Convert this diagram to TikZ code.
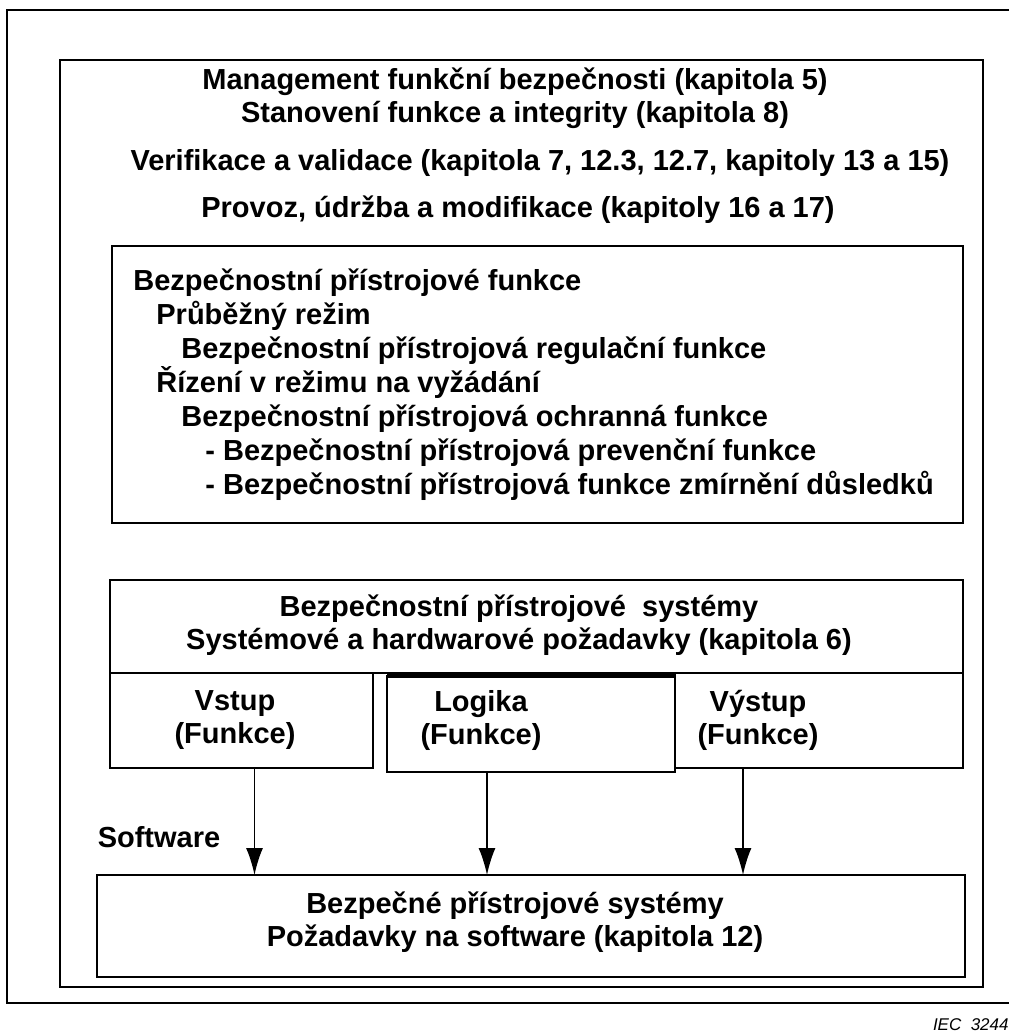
\documentclass[tikz,border=0pt]{standalone}
\usepackage{fontspec}
\setmainfont{Liberation Sans}
\usetikzlibrary{arrows.meta,positioning}

\begin{document}
\begin{tikzpicture}[x=0.5pt,y=-0.5pt,>={Latex[length=13.5pt,width=8.5pt]},
  box/.style={draw, line width=0.8pt, inner sep=0pt, outer sep=0pt},
  txt/.style={font=\bfseries\fontsize{14.5}{16.5}\selectfont, align=center, inner sep=0pt}]
\useasboundingbox (0,0) rectangle (1009,1035);

% Frames
\draw[line width=1pt] (1009,10) -- (7,10) -- (7,1003) -- (1009,1003);
\draw[line width=1pt] (60,60) rectangle (983,987);

% Headings
\node[txt] (mgmt) at (515,98) {Management funkční bezpečnosti (kapitola 5)\\Stanovení funkce a integrity (kapitola 8)};
\node[txt] (verif) at (540,163) {Verifikace a validace (kapitola 7, 12.3, 12.7, kapitoly 13 a 15)};
\node[txt] (provoz) at (518,210) {Provoz, údržba a modifikace (kapitoly 16 a 17)};

% Functions
\draw[line width=0.8pt] (112,246) rectangle (963,523);
\node[txt, align=left, anchor=west, font=\bfseries\fontsize{14.5}{17}\selectfont] (funkce) at (133,385) {Bezpečnostní přístrojové funkce\\
\hspace*{11.5pt}Průběžný režim\\
\hspace*{24pt}Bezpečnostní přístrojová regulační funkce\\
\hspace*{11.5pt}Řízení v režimu na vyžádání\\
\hspace*{24pt}Bezpečnostní přístrojová ochranná funkce\\
\hspace*{36pt}- Bezpečnostní přístrojová prevenční funkce\\
\hspace*{36pt}- Bezpečnostní přístrojová funkce zmírnění důsledků};

% Systems
\node[box, minimum width=426.5pt, minimum height=46.5pt] (sys) at (536.5,626.5) {};
\node[txt] (systxt) at (519,625) {Bezpečnostní přístrojové\ \ systémy\\Systémové a hardwarové požadavky (kapitola 6)};
\node[box, minimum width=131.5pt, minimum height=47.5pt] (vstup) at (241.5,720.5) {};
\node[box, minimum width=144pt, minimum height=48pt] (logika) at (531,724) {};
\node[box, minimum width=144pt, minimum height=47.5pt] (vystup) at (819,720.5) {};
\draw[line width=1.6pt] (logika.north west) -- (logika.north east);
\node[txt] (vstuptxt) at (235,720) {Vstup\\(Funkce)};
\node[txt] (logikatxt) at (481,720) {Logika\\(Funkce)};
\node[txt] (vystuptxt) at (758,720) {Výstup\\(Funkce)};

% Software
\node[box, minimum width=434pt, minimum height=51pt] (sw) at (531,926) {};
\node[txt] (swtxt) at (515,922) {Bezpečné přístrojové systémy\\Požadavky na software (kapitola 12)};
\node[txt] (swlabel) at (159,837) {Software};
\draw[->, line width=0.8pt] (vstup.south) ++(13,0) coordinate (v1) -- (v1 |- sw.north);
\draw[->, line width=0.8pt] (logika.south) ++(-44,0) coordinate (l1) -- (l1 |- sw.north);
\draw[->, line width=0.8pt] (vystup.south) ++(-76,0) coordinate (o1) -- (o1 |- sw.north);

\node[anchor=east, inner sep=0pt, font=\itshape\fontsize{8.5}{9}\selectfont] (iec) at (1009,1025) {IEC\ \ 3244};
\end{tikzpicture}
\end{document}
